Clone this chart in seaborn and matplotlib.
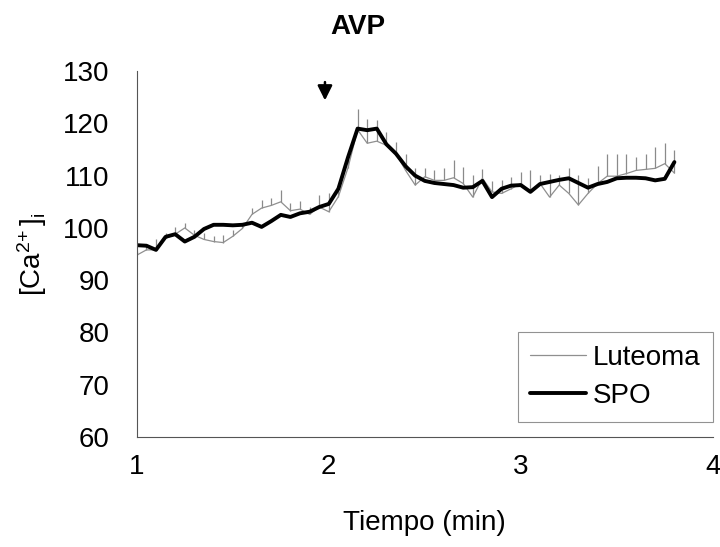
import numpy as np
import pandas as pd
import matplotlib
matplotlib.use("Agg")
import matplotlib.pyplot as plt
from matplotlib.lines import Line2D
import seaborn as sns

# Time axis (min), sampled every 3 s
tiempo = [round(1.0 + 0.05 * i, 2) for i in range(57)]

# Mean [Ca2+]i, luteoma cells
luteoma = [94.8, 95.8, 95.8, 98.0, 98.8, 100.0, 98.6, 97.8, 97.4, 97.2,
           98.4, 99.9, 102.6, 103.8, 104.3, 105.0, 103.3, 103.6, 102.6, 104.0,
           103.1, 106.0, 111.5, 118.8, 116.2, 116.6, 115.8, 114.2, 111.0, 108.2,
           109.8, 109.1, 109.1, 109.6, 108.5, 105.9, 109.5, 106.9, 106.6, 107.5,
           108.5, 106.9, 108.5, 105.9, 108.2, 106.6, 104.4, 106.6, 108.5, 109.9,
           109.9, 110.4, 111.0, 111.2, 111.4, 112.3, 110.5]

# Upper error (SEM) for luteoma
luteoma_err = [0.8, 1.2, 2.0, 1.0, 1.3, 1.0, 1.1, 1.2, 1.0, 1.4,
               1.2, 1.0, 1.3, 1.6, 1.5, 2.2, 1.4, 1.6, 1.5, 2.3,
               3.5, 1.8, 1.5, 4.0, 4.7, 4.0, 2.6, 2.3, 3.1, 3.2,
               1.6, 1.9, 2.4, 3.4, 3.1, 4.2, 1.7, 2.1, 2.6, 2.3,
               2.2, 4.1, 1.6, 4.5, 2.0, 4.8, 5.7, 3.0, 3.3, 4.2,
               4.2, 3.7, 2.5, 2.9, 4.1, 4.0, 4.4]

# Mean [Ca2+]i, SPO cells
spo = [96.7, 96.6, 95.8, 98.3, 98.8, 97.4, 98.3, 99.8, 100.6, 100.6,
       100.5, 100.6, 101.0, 100.2, 101.3, 102.5, 102.1, 102.8, 103.1, 104.0,
       104.6, 107.5, 113.5, 119.0, 118.7, 119.0, 116.0, 114.2, 111.8, 110.0,
       109.0, 108.6, 108.4, 108.2, 107.7, 107.8, 109.0, 105.9, 107.5, 108.1,
       108.2, 106.9, 108.4, 108.8, 109.2, 109.5, 108.6, 107.7, 108.4, 108.8,
       109.5, 109.6, 109.6, 109.5, 109.1, 109.4, 112.6]

series_names = ["Luteoma", "SPO"]
x_ticks = [1, 2, 3, 4]
y_ticks = [60, 70, 80, 90, 100, 110, 120, 130]

df = pd.DataFrame({
    "Tiempo": tiempo * 2,
    "Ca": luteoma + spo,
    "Serie": [series_names[0]] * len(tiempo) + [series_names[1]] * len(tiempo),
})

sns.set_style("white")
plt.rcParams["font.family"] = ["Liberation Sans", "DejaVu Sans"]
plt.rcParams["mathtext.fontset"] = "custom"
plt.rcParams["mathtext.rm"] = "Liberation Sans"
plt.rcParams["mathtext.it"] = "Liberation Sans"
plt.rcParams["text.color"] = "black"
plt.rcParams["axes.labelcolor"] = "black"

FS = 20
GREY = "#8f8f8f"

fig = plt.figure(figsize=(7.2, 5.47), dpi=100)
ax = fig.add_axes([0.190, 0.201, 0.800, 0.669])

# upward-only error bars for the luteoma series
ax.vlines(tiempo, luteoma, np.array(luteoma) + np.array(luteoma_err),
          color="#8a8a8a", linewidth=0.9, zorder=1)

sns.lineplot(data=df, x="Tiempo", y="Ca", hue="Serie", size="Serie",
             palette={"Luteoma": GREY, "SPO": "#000000"},
             sizes={"Luteoma": 0.9, "SPO": 2.8},
             ax=ax, legend=False, zorder=2)
for ln in ax.get_lines():
    ln.set_solid_joinstyle("round")
    ln.set_solid_capstyle("round")

ax.set_xlim(1, 4)
ax.set_ylim(60, 130)
ax.set_xticks(x_ticks)
ax.set_yticks(y_ticks)
ax.tick_params(axis="both", direction="out", length=6.5, width=0.8,
               color="#555555", labelcolor="black", labelsize=FS)
ax.tick_params(axis="y", pad=13)
ax.tick_params(axis="x", pad=6)
for side in ("top", "right"):
    ax.spines[side].set_visible(False)
for side in ("left", "bottom"):
    ax.spines[side].set_color("#555555")
    ax.spines[side].set_linewidth(0.8)

ax.set_xlabel("Tiempo (min)", fontsize=FS, labelpad=21)
ax.set_ylabel(r"[Ca$^{2\!+}$]$_{\rm i}$", fontsize=FS, labelpad=10)

# stimulus marker
fig.text(0.497, 0.950, "AVP", fontsize=FS, fontweight="bold",
         ha="center", va="center")
ax.annotate("", xy=(1.98, 124.4), xytext=(1.98, 127.9),
            arrowprops=dict(arrowstyle="-|>", color="black", lw=1.8,
                            mutation_scale=22, shrinkA=0, shrinkB=0))

handles = [Line2D([], [], color=GREY, lw=0.9),
           Line2D([], [], color="black", lw=2.8)]
leg = ax.legend(handles, series_names, loc="lower right",
                bbox_to_anchor=(1.0, 0.042), fontsize=FS, frameon=True,
                fancybox=False, edgecolor="#777777", handlelength=2.0,
                handletextpad=0.25, borderpad=0.45, labelspacing=0.45,
                borderaxespad=0.0)
leg.get_frame().set_linewidth(0.8)

fig.savefig("out.png", dpi=100, facecolor="white")
